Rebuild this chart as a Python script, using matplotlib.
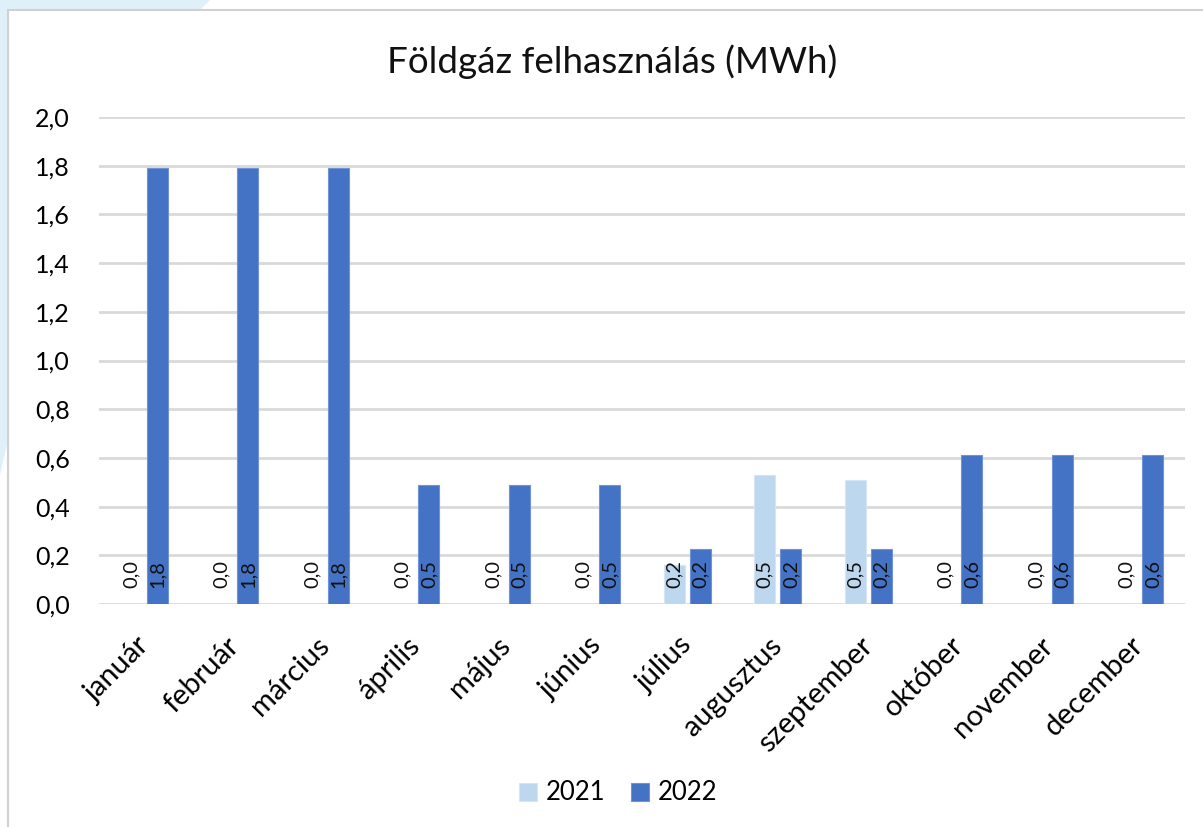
from matplotlib import pyplot as plt
from matplotlib.patches import Polygon, Rectangle
import numpy as np

honapok = ['január', 'február', 'március', 'április', 'május', 'június',
           'július', 'augusztus', 'szeptember', 'október', 'november', 'december']
ev2021 = [0.0, 0.0, 0.0, 0.0, 0.0, 0.0, 0.16, 0.53, 0.51, 0.0, 0.0, 0.0]
ev2022 = [1.79, 1.79, 1.79, 0.49, 0.49, 0.49, 0.225, 0.225, 0.225, 0.61, 0.61, 0.61]
yticks = [0.0, 0.2, 0.4, 0.6, 0.8, 1.0, 1.2, 1.4, 1.6, 1.8, 2.0]

szin2021 = '#BDD7EE'
szin2022 = '#4472C4'

plt.rcParams['font.family'] = ['Lato', 'DejaVu Sans']


def vesszo(v):
    return ('%.1f' % v).replace('.', ',')


fig = plt.figure(figsize=(12.03, 8.27), dpi=100)
W, H = 1203, 827

# light blue decoration behind the chart frame
dekor = Polygon([(0, 1), (210 / W, 1), (200 / W, 1 - 10 / H), (8 / W, 1 - 10 / H),
                 (8 / W, 1 - 440 / H), (0, 1 - 475 / H)],
                closed=True, transform=fig.transFigure, facecolor='#DFF0F9',
                edgecolor='none', zorder=-3)
fig.patches.append(dekor)
keret = Rectangle((8 / W, -0.01), 1.0, 1 - 10 / H + 0.01, transform=fig.transFigure,
                  facecolor='white', edgecolor='#D0D0D0', linewidth=1.5, zorder=-2)
fig.patches.append(keret)

ax = fig.add_axes([99 / W, 1 - 604 / H, (1185 - 99) / W, (604 - 117) / H])
ax.patch.set_alpha(0)

x = np.arange(len(honapok))
w = 0.23
off = 0.145
b1 = ax.bar(x - off, ev2021, w, color=szin2021, edgecolor='#D5E5F4', linewidth=0.8,
            label='2021', zorder=3)
b2 = ax.bar(x + off, ev2022, w, color=szin2022, edgecolor='#6F93D6', linewidth=0.8,
            label='2022', zorder=3)

for i in range(len(honapok)):
    ax.annotate(vesszo(ev2021[i]), (x[i] - off, 0), xytext=(0, 16),
                textcoords='offset pixels', rotation=90, ha='center', va='bottom',
                fontsize=14.5, color='#111111', zorder=4)
    ax.annotate(vesszo(ev2022[i]), (x[i] + off, 0), xytext=(0, 16),
                textcoords='offset pixels', rotation=90, ha='center', va='bottom',
                fontsize=14.5, color='#111111', zorder=4)

ax.set_xlim(-0.5, len(honapok) - 0.5)
ax.set_ylim(0, 2.0)
ax.set_yticks(yticks)
ax.set_yticklabels([vesszo(v) for v in yticks], fontsize=18)
ax.set_xticks(x)
ax.set_xticklabels(honapok, rotation=45, ha='right', va='center',
                   rotation_mode='anchor', fontsize=21)
ax.tick_params(axis='y', length=0, pad=21)
ax.tick_params(axis='x', length=0, pad=27)
ax.grid(axis='y', color='#D9D9D9', linewidth=2, zorder=0)
for s in ax.spines.values():
    s.set_visible(False)

fig.text(612 / W, 1 - 62 / H, 'Földgáz felhasználás (MWh)', ha='center', va='center',
         fontsize=26.5, color='#111111')

fig.legend(handles=[b1, b2], labels=['2021', '2022'], loc='center',
           bbox_to_anchor=(618 / W, 1 - 793 / H), ncol=2, frameon=False, fontsize=18.5,
           handlelength=0.7, handleheight=0.7, handletextpad=0.35, columnspacing=1.0)

fig.savefig('out.png', dpi=100)
